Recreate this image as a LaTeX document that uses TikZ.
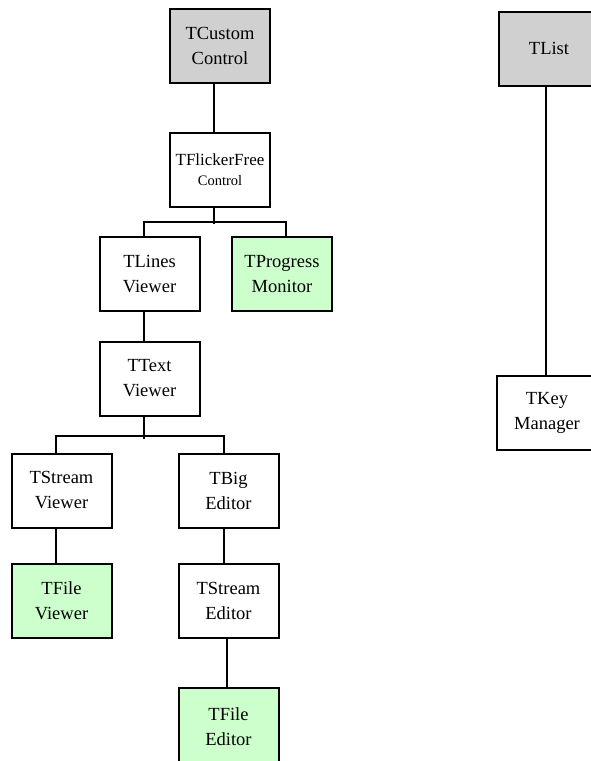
\documentclass[tikz,border=0pt]{standalone}
\usepackage{fontspec}
\setmainfont{Liberation Serif}
\definecolor{basegray}{RGB}{208,208,208}
\definecolor{leafgreen}{RGB}{204,255,204}

\begin{document}
\begin{tikzpicture}[x=1pt,y=-1pt,
    cls/.style={draw=black, line width=2pt, fill=white, align=center,
        minimum width=100pt, minimum height=74pt, inner sep=0pt,
        font=\fontsize{18.5}{25}\selectfont},
    base/.style={cls, fill=basegray},
    leaf/.style={cls, fill=leafgreen},
    link/.style={black, line width=2pt}]
    \useasboundingbox (0,0) rectangle (590,761);

    % left tree
    \node[base] (custom) at (220,46) {TCustom\\Control};
    \node[cls, font=\fontsize{17}{20}\selectfont] (flicker) at (220,170) {TFlickerFree\\{\fontsize{14.5}{20}\selectfont Control}};
    \node[cls] (lines) at (149.5,274) {TLines\\Viewer};
    \node[leaf] (progress) at (282,274) {TProgress\\Monitor};
    \node[cls] (text) at (149.5,378.5) {TText\\Viewer};
    \node[cls] (sview) at (61.5,490.5) {TStream\\Viewer};
    \node[cls] (big) at (228.5,490.5) {TBig\\Editor};
    \node[leaf] (fview) at (61.5,600.5) {TFile\\Viewer};
    \node[cls] (sedit) at (228.5,600.5) {TStream\\Editor};
    \node[leaf, minimum height=78pt] (fedit) at (228.5,727) {TFile\\Editor};

    \draw[link] ([xshift=-6pt]custom.south) -- ([xshift=-6pt]flicker.north);
    \draw[link] ([xshift=-6pt]flicker.south) -- ++(0,16);
    \draw[link] ([xshift=-5.5pt]lines.north) -- ++(0,-14) -| ([xshift=4pt]progress.north);
    \draw[link] ([xshift=-5.5pt]lines.south) -- ([xshift=-5.5pt]text.north);
    \draw[link] ([xshift=-5.5pt]text.south) -- ++(0,22);
    \draw[link] ([xshift=-5.5pt]sview.north) -- ++(0,-17) -| ([xshift=-4.5pt]big.north);
    \draw[link] ([xshift=-5.5pt]sview.south) -- ([xshift=-5.5pt]fview.north);
    \draw[link] ([xshift=-4.5pt]big.south) -- ([xshift=-4.5pt]sedit.north);
    \draw[link] ([xshift=-1.5pt]sedit.south) -- ([xshift=-1.5pt]fedit.north);

    % right tree
    \node[base] (list) at (549,48.5) {TList};
    \node[cls] (key) at (547,412.5) {TKey\\Manager};

    \draw[link] ([xshift=-3pt]list.south) -- ([xshift=-1pt]key.north);
\end{tikzpicture}
\end{document}
